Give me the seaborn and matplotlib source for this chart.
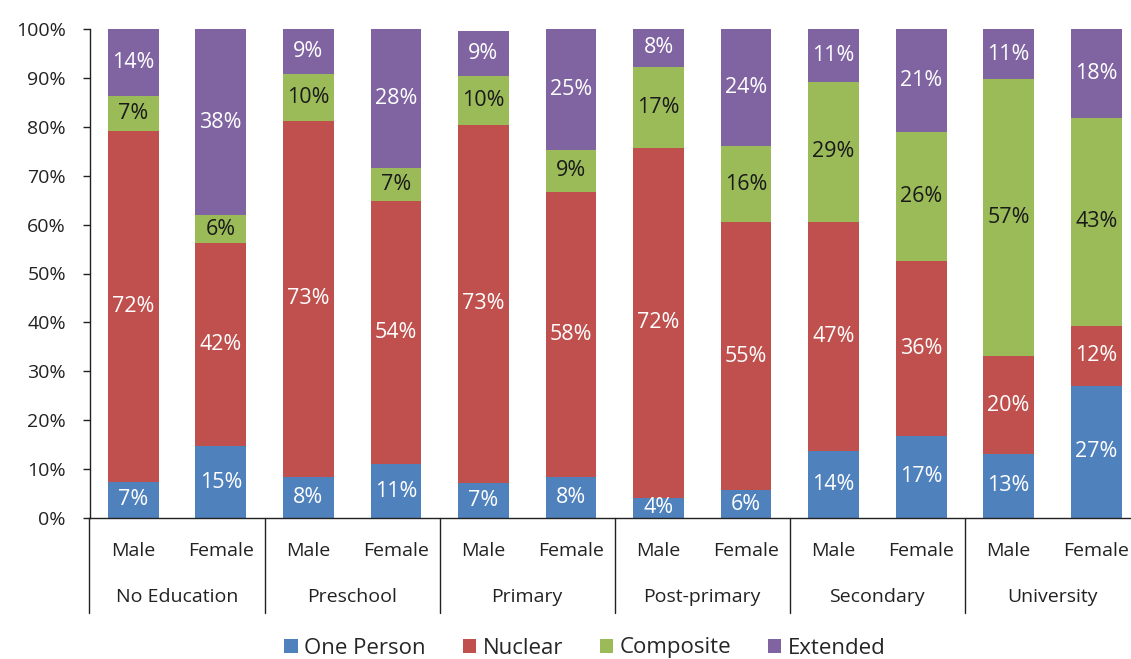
import matplotlib
matplotlib.use("Agg")
import matplotlib.pyplot as plt
import matplotlib.transforms as mtransforms
from matplotlib.patches import Patch
import numpy as np
import pandas as pd
import seaborn as sns

# ---- data ----
groups = ["No Education", "Preschool", "Primary", "Post-primary", "Secondary", "University"]
sexes = ["Male", "Female"]
series = ["One Person", "Nuclear", "Composite", "Extended"]
one_person = [7.4, 14.7, 8.4, 11.0, 7.2, 8.4, 4.1, 5.7, 13.7, 16.8, 13.1, 27.0]
nuclear    = [71.7, 41.6, 72.8, 53.8, 73.2, 58.3, 71.6, 54.8, 46.8, 35.8, 20.0, 12.3]
composite  = [7.2, 5.6, 9.6, 6.8, 10.0, 8.6, 16.6, 15.6, 28.7, 26.3, 56.6, 42.6]
extended   = [13.7, 38.2, 9.2, 28.4, 9.2, 24.7, 7.7, 23.9, 10.8, 21.1, 10.6, 18.2]
colors = ["#4F81BD", "#C0504D", "#9BBB59", "#8064A2"]
label_colors = ["white", "white", "#1a1a1a", "white"]

sns.set_style("white")
plt.rcParams["font.family"] = ["Open Sans", "DejaVu Sans"]

bars = [f"{g}|{s}" for g in groups for s in sexes]
vals = np.array([one_person, nuclear, composite, extended])
cum = np.cumsum(vals, axis=0)

fig = plt.figure(figsize=(11.31, 6.59), dpi=100)
W, H = 1131, 659
left_px, right_px, top_px, bot_px = 89.5, 1140, 29, 518
ax = fig.add_axes([left_px / W, 1 - bot_px / H, (right_px - left_px) / W, (bot_px - top_px) / H])

# draw cumulative layers back-to-front
for i in range(3, -1, -1):
    df = pd.DataFrame({"bar": bars, "cum": cum[i]})
    sns.barplot(data=df, x="bar", y="cum", order=bars, color=colors[i],
                saturation=1, width=0.58, ax=ax, edgecolor="none", linewidth=0)

ax.set_ylim(0, 100)
ax.set_xlim(-0.5, len(bars) - 0.5)
ax.set_yticks(np.arange(0, 101, 10))
ax.set_yticklabels([f"{t}%" for t in range(0, 101, 10)], fontsize=14, color="#222222")
ax.set_xticks(range(len(bars)))
ax.set_xticklabels([b.split("|")[1] for b in bars], fontsize=14, color="#222222")
ax.tick_params(axis="x", length=0, pad=17)
ax.tick_params(axis="y", length=5, width=1, direction="out", left=True, pad=12, color="#222222")
ax.set_xlabel("")
ax.set_ylabel("")
for s in ["top", "right"]:
    ax.spines[s].set_visible(False)
for s in ["left", "bottom"]:
    ax.spines[s].set_color("#222222")
    ax.spines[s].set_linewidth(1)

# data labels
for j in range(len(bars)):
    for i in range(4):
        lo = cum[i][j] - vals[i][j]
        hi = min(cum[i][j], 100)
        ax.text(j, (lo + hi) / 2, f"{int(round(vals[i][j]))}%", ha="center", va="center",
                fontsize=15.5, color=label_colors[i])

# group separators and group labels
trans = mtransforms.blended_transform_factory(ax.transData, ax.transAxes)
sep_y = -(613 - bot_px) / (bot_px - top_px)
for k in range(len(groups) + 1):
    x = -0.5 + 2 * k
    ax.plot([x, x], [0, sep_y], transform=trans, color="#222222", lw=1, clip_on=False)
for k, g in enumerate(groups):
    ax.text(2 * k + 0.5, -(597 - bot_px) / (bot_px - top_px), g, transform=trans,
            ha="center", va="center", fontsize=14, color="#222222")

handles = [Patch(facecolor=c, edgecolor="none") for c in colors]
fig.legend(handles, series, loc="center", bbox_to_anchor=(585 / W, 1 - 648 / H), ncol=4,
           frameon=False, fontsize=16, handlelength=0.6, handleheight=0.6,
           handletextpad=0.3, columnspacing=1.65)

fig.savefig("out.png", dpi=100)
